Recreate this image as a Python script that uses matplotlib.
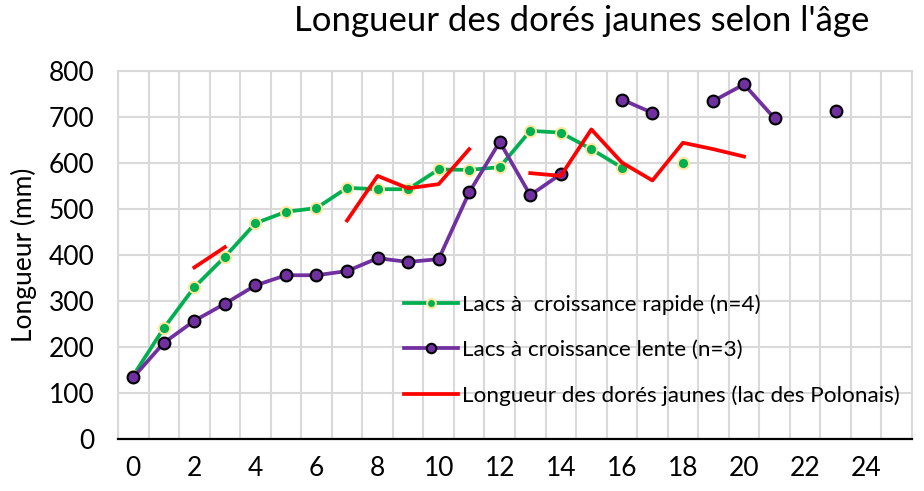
import numpy as np
import matplotlib.pyplot as plt

plt.rcParams['font.family'] = ['Lato', 'DejaVu Sans']

nan = np.nan
ages = np.arange(0, 26)

# Lacs a croissance rapide (n=4)
rapide = [138, 241, 330, 396, 469, 494, 502, 546, 543, 543,
          586, 585, 591, 670, 666, 630, 590, nan, 601, nan,
          nan, nan, nan, nan, nan, nan]
# Lacs a croissance lente (n=3)
lente = [134, 209, 257, 294, 334, 356, 356, 365, 393, 385,
         391, 536, 646, 530, 576, nan, 738, 709, nan, 735,
         771, 697, nan, 714, nan, nan]
# lac des Polonais
polonais = [nan, nan, 373, 417, nan, nan, nan, 475, 572, 545,
            554, 630, nan, 578, 572, 673, 601, 562, 644, 630,
            614, nan, nan, nan, nan, nan]

xticks = np.arange(0, 25, 2)
yticks = np.arange(0, 801, 100)

fig = plt.figure(figsize=(9.24, 4.91), dpi=100)
ax = fig.add_axes([0.1277, 0.1059, 0.8593, 0.7495])

ax.plot(ages, rapide, color='#00B050', lw=2.7, marker='o', ms=8,
        mfc='#00B050', mec='#FFE699', mew=1.4, label='Lacs à  croissance rapide (n=4)', zorder=3)
ax.plot(ages, lente, color='#7030A0', lw=2.7, marker='o', ms=8.5,
        mfc='#7030A0', mec='black', mew=1.5, label='Lacs à croissance lente (n=3)', zorder=4)
ax.plot(ages, polonais, color='#FF0000', lw=2.7,
        label='Longueur des dorés jaunes (lac des Polonais)', zorder=5)

ax.set_xlim(-0.5, 25.5)
ax.set_ylim(0, 800)
ax.set_xticks(xticks)
ax.set_yticks(yticks)
ax.set_xticks(np.arange(-0.5, 26, 1), minor=True)
ax.grid(True, which='minor', axis='x', color='#D9D9D9', lw=1.5)
ax.grid(True, which='major', axis='y', color='#D9D9D9', lw=1.5)
ax.set_axisbelow(True)
ax.tick_params(which='both', length=0)
ax.tick_params(axis='y', labelsize=19, pad=17)
ax.tick_params(axis='x', labelsize=19, pad=12)

for s in ['top', 'right', 'left']:
    ax.spines[s].set_color('#D9D9D9')
    ax.spines[s].set_linewidth(1.5)
ax.spines['bottom'].set_color('black')
ax.spines['bottom'].set_linewidth(1.6)
ax.spines['bottom'].set_zorder(6)

ax.set_ylabel('Longueur (mm)', fontsize=19, labelpad=8)
fig.suptitle("Longueur des dorés jaunes selon l'âge", fontsize=25, x=0.629, y=0.99)

ax.legend(loc='center left', bbox_to_anchor=(0.360, 0.242), frameon=False,
          fontsize=16.2, borderpad=0, borderaxespad=0, handlelength=2.4,
          handletextpad=0.2, labelspacing=1.12, markerscale=0.8)

fig.savefig('out.png', dpi=100)
